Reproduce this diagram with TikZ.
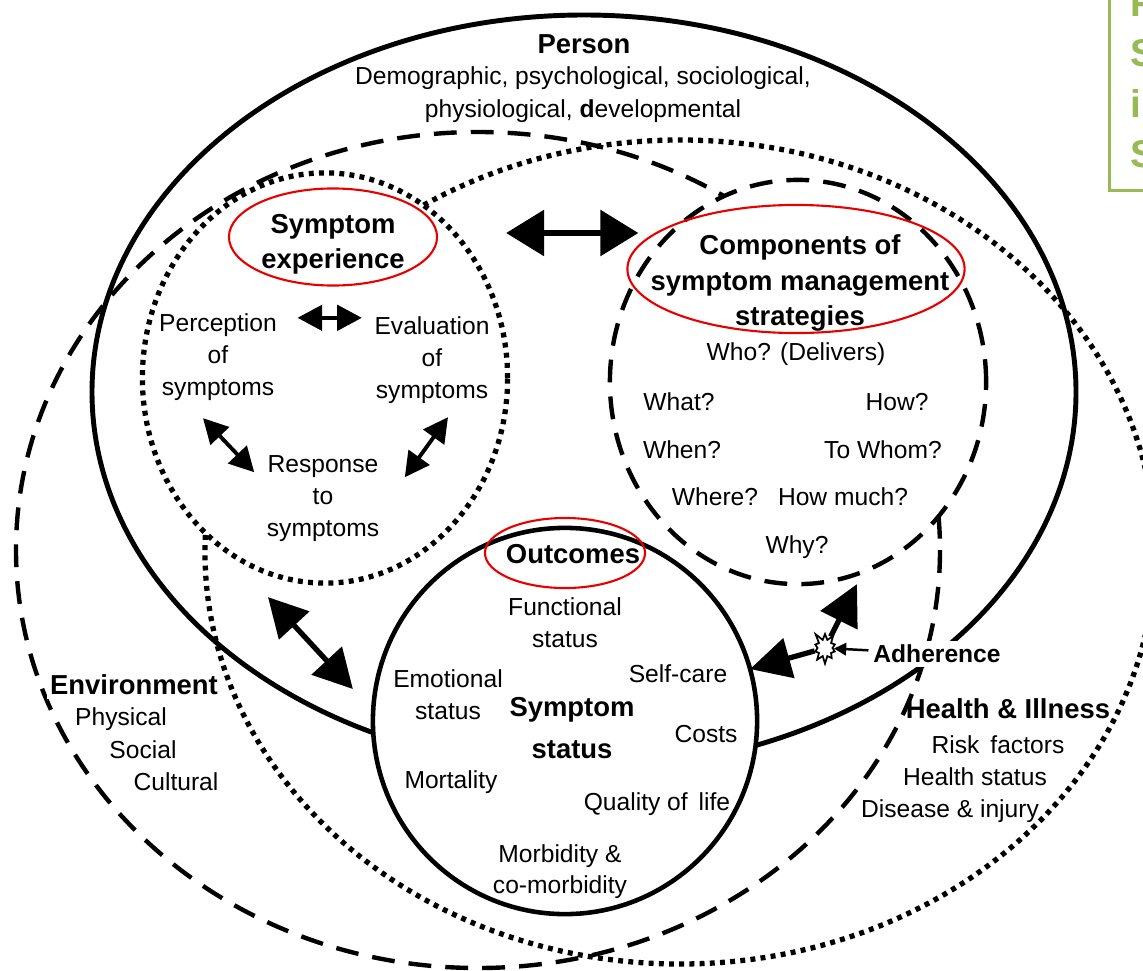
\documentclass[tikz,border=0pt]{standalone}
\usepackage{fontspec}
\setmainfont{Liberation Sans}
\usetikzlibrary{arrows.meta, shapes.geometric, shapes.symbols, calc}
\usetikzlibrary{positioning}
\definecolor{notegreen}{RGB}{152,185,84}
\definecolor{ringred}{RGB}{232,0,0}

\begin{document}
\begin{tikzpicture}[x=0.01cm, y=-0.01cm,
    txt/.style={font=\fontsize{7}{9.1}\selectfont, align=center, inner sep=0pt},
    hd/.style={font=\fontsize{7.8}{10}\selectfont\bfseries, align=center, inner sep=0pt},
    solidln/.style={line width=1.4pt},
    dashln/.style={line width=1.25pt, dash pattern=on 6.5pt off 4pt},
    dotln/.style={line width=1.5pt, dash pattern=on 1.4pt off 1.5pt},
    zone/.style={ellipse, fill=white, inner sep=0pt, outer sep=0pt},
    ring/.style={ellipse, draw=ringred, line width=0.6pt, inner sep=0pt},
    bigtip/.style={line width=1.7pt, {Triangle[length=10.8pt,width=12.8pt]}-{Triangle[length=10.8pt,width=12.8pt]}},
    midtip/.style={line width=1.5pt, {Triangle[length=11pt,width=11.5pt]}-{Triangle[length=11pt,width=11.5pt]}},
    smtip/.style={line width=1.1pt, {Triangle[length=7pt,width=7.2pt]}-{Triangle[length=7pt,width=7.2pt]}},
    adhtip/.style={line width=1.5pt, -{Triangle[length=11.5pt,width=11.5pt]}},
    thintip/.style={line width=0.7pt, -{Triangle[length=3.5pt,width=3.5pt]}}]
    \clip (0,0) rectangle (1143,970);

    % domains
    \draw[dotln] (680,552) ellipse [x radius=475, y radius=412];
    \draw[dashln] (478,550) ellipse [x radius=462, y radius=418];
    \draw[solidln] (584,392) ellipse [x radius=492, y radius=377];

    \node[zone, dotln, draw, minimum width=3.65cm, minimum height=4.10cm] at (325,378) (sympexp) {};
    \node[zone, dashln, draw, minimum width=3.76cm, minimum height=4.04cm] at (798,382) (mgmt) {};
    \node[zone, line width=1.3pt, draw, minimum width=3.84cm, minimum height=3.86cm] at (565,721) (outcome) {};

    % person
    \node[hd] at (584,44) (person) {Person};
    \node[txt, font=\fontsize{7}{9.4}\selectfont] at (583,95) (persondesc) {Demographic, psychological, sociological,\\physiological, \textbf{d}evelopmental};

    % symptom experience
    \node[ring, minimum width=2.08cm, minimum height=0.97cm] at (333,237) (sxring) {};
    \node[hd] at (333,244) (sxtitle) {Symptom\\experience};
    \node[txt] at (218,357) (perc) {Perception\\of\\symptoms};
    \node[txt] at (432,360) (eval) {Evaluation\\of\\symptoms};
    \node[txt] at (323,499) (resp) {Response\\to\\symptoms};
    \draw[smtip] ([shift={(20,5)}]perc.north east) -- ([shift={(-12,2)}]eval.north west);
    \draw[smtip] ([shift={(-15,17)}]perc.south) -- ([shift={(-12,17)}]resp.north west);
    \draw[smtip] ([shift={(16,13)}]eval.south) -- ([shift={(25,22)}]resp.north east);

    % management strategies
    \node[ring, minimum width=3.37cm, minimum height=1.28cm] at (796,269) (cmring) {};
    \node[hd] at (800,283) (cmtitle) {Components of\\symptom management\\strategies};
    \node[txt] at (796,354) (who) {Who? (Delivers)};
    \node[txt] at (679,402) (what) {What?};
    \node[txt] at (897,402) (how) {How?};
    \node[txt] at (682,450) (when) {When?};
    \node[txt] at (883,450) (towhom) {To Whom?};
    \node[txt] at (715,497) (where) {Where?};
    \node[txt] at (843,497) (howmuch) {How much?};
    \node[txt] at (797,547) (why) {Why?};

    % outcomes
    \node[ring, minimum width=1.60cm, minimum height=0.70cm] at (565,553) (ocring) {};
    \node[hd] at (573,554) (octitle) {Outcomes};
    \node[txt] at (565,623) (functional) {Functional\\status};
    \node[txt] at (448,695) (emotional) {Emotional\\status};
    \node[hd, font=\fontsize{7.8}{12}\selectfont\bfseries] at (572,728) (sstatus) {Symptom\\status};
    \node[txt] at (678,674) (selfcare) {Self-care};
    \node[txt] at (706,734) (costs) {Costs};
    \node[txt] at (451,782) (mortality) {Mortality};
    \node[txt] at (657,804) (quality) {Quality of\, life};
    \node[txt, font=\fontsize{7}{8.8}\selectfont] at (560,872) (morbidity) {Morbidity \&\\co-morbidity};

    % environment
    \node[hd, fill=white, inner sep=1pt] at (134,685) (env) {Environment};
    \node[txt] at (121,719) (physical) {Physical};
    \node[txt] at (143,750) (social) {Social};
    \node[txt] at (176,782) (cultural) {Cultural};

    % health and illness
    \node[hd] at (1008,709) (health) {Health \& Illness};
    \node[txt] at (998,745) (risk) {Risk\, factors};
    \node[txt] at (975,777) (hstatus) {Health status};
    \node[txt] at (950,811) (disease) {Disease \& injury};

    % links between the circles
    \draw[bigtip] ([shift={(68,-4)}]sxring.east) -- ([shift={(12,-36)}]cmring.west);
    \draw[midtip, shorten >=8.5pt] ([shift={(-57,14)}]sympexp.south) -- (outcome.177);
    \node[starburst, draw, fill=white, line width=0.5pt, starburst points=10,
        starburst point height=0.09cm, random starburst=5, minimum width=0.33cm,
        minimum height=0.35cm, inner sep=0pt] at (825,648) (burst) {};
    \draw[adhtip] (burst) -- (outcome);
    \draw[adhtip, shorten >=4pt] (burst) -- (mgmt.-71);
    \node[hd, font=\fontsize{7}{9}\selectfont\bfseries, fill=white, inner sep=1.2pt] at (937,654) (adh) {Adherence};
    \draw[thintip] (adh) -- (burst);

    % note box, cut at the frame
    \node[draw=notegreen, line width=0.85pt, fill=white, anchor=south west,
        minimum width=1cm, minimum height=2.6cm] at (1108,192) (notebox) {};
    \foreach \t [count=\i] in {F, S, in, S}
        \node[font=\fontsize{11}{13}\selectfont\bfseries, text=notegreen, inner sep=0pt,
            anchor=base west] at (1130,{17+50*(\i-1)}) (note\i) {\t};
\end{tikzpicture}
\end{document}
